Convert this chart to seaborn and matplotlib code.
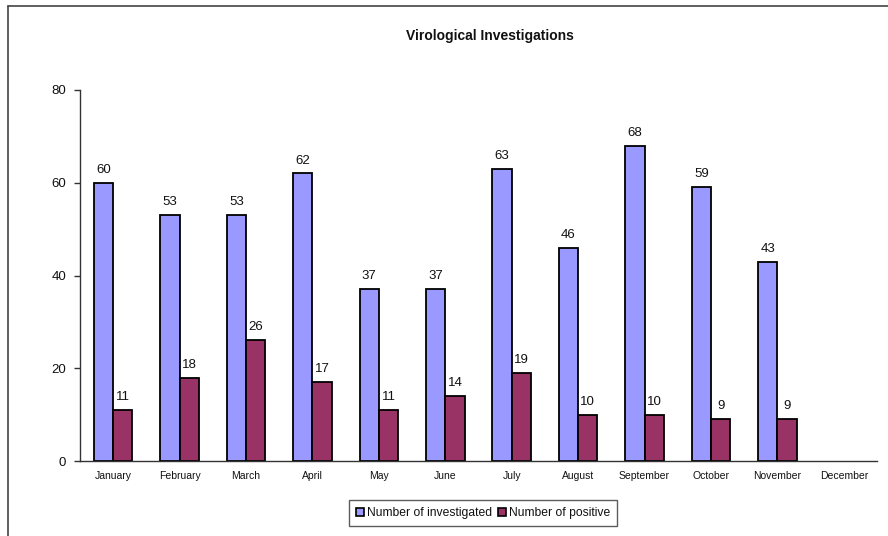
import numpy as np
import pandas as pd
import matplotlib
matplotlib.use("Agg")
import matplotlib.pyplot as plt
import seaborn as sns
from matplotlib.lines import Line2D
from matplotlib.patches import Patch

months = ["January", "February", "March", "April", "May", "June", "July",
          "August", "September", "October", "November", "December"]
investigated = [60, 53, 53, 62, 37, 37, 63, 46, 68, 59, 43, np.nan]
positive = [11, 18, 26, 17, 11, 14, 19, 10, 10, 9, 9, np.nan]
series_names = ["Number of investigated", "Number of positive"]
colors = ["#9999FF", "#993366"]
yticks = [0, 20, 40, 60, 80]

df = pd.DataFrame({
    "Month": months * 2,
    "Value": investigated + positive,
    "Series": [series_names[0]] * len(months) + [series_names[1]] * len(months),
})

sns.set_style("white")
plt.rcParams["font.family"] = ["Liberation Sans", "DejaVu Sans"]

fig = plt.figure(figsize=(8.88, 5.36), dpi=100)
ax = fig.add_axes([80 / 888, 1 - 461 / 536, (877 - 80) / 888, (461 - 90) / 536])

sns.barplot(data=df, x="Month", y="Value", hue="Series", palette=colors,
            order=months, hue_order=series_names, width=0.58, dodge=True,
            edgecolor="black", linewidth=1.3, saturation=1, ax=ax, legend=False)

for p in ax.patches:
    h = p.get_height()
    if h is None or np.isnan(h) or h == 0:
        continue
    ax.annotate(f"{int(round(h))}", (p.get_x() + p.get_width() / 2, h),
                xytext=(0, 5), textcoords="offset points", ha="center", va="bottom",
                fontsize=9.5, color="#111111")

ax.set_xlim(-0.5, len(months) - 0.5)
ax.set_ylim(0, 80)
ax.set_yticks(yticks)
ax.set_xlabel("")
ax.set_ylabel("")
for s in ["top", "right"]:
    ax.spines[s].set_visible(False)
for s in ["left", "bottom"]:
    ax.spines[s].set_color("#333333")
    ax.spines[s].set_linewidth(1.0)

ax.set_xticks(range(len(months)))
ax.set_xticklabels(months, fontsize=7.5, color="#111111")
ax.set_xticks(np.arange(-0.5, len(months), 1.0), minor=True)
ax.tick_params(axis="x", which="major", length=0, pad=7)
ax.tick_params(axis="x", which="minor", length=4, width=1, color="#333333", direction="out")
ax.tick_params(axis="y", length=4, width=1, color="#333333", direction="out", labelsize=9.5,
               pad=6, left=True, labelcolor="#111111")

fig.suptitle("Virological Investigations", x=490 / 888, y=1 - 29 / 536,
             fontsize=10, fontweight="bold", color="#111111")

handles = [Patch(facecolor=c, edgecolor="black", linewidth=1.2) for c in colors]
leg = fig.legend(handles, series_names, loc="center", bbox_to_anchor=(483 / 888, 1 - 513 / 536),
                 ncol=2, fontsize=8.7, frameon=True, fancybox=False, handlelength=0.7,
                 handleheight=0.7, handletextpad=0.2, columnspacing=0.5, borderpad=0.55)
leg.get_frame().set_edgecolor("#333333")
leg.get_frame().set_linewidth(1.0)
for t in leg.get_texts():
    t.set_color("#111111")

fig.add_artist(Line2D([8 / 888, 8 / 888], [0, 1 - 6 / 536], transform=fig.transFigure,
                      color="#444444", linewidth=1.2))
fig.add_artist(Line2D([8 / 888, 1], [1 - 6 / 536, 1 - 6 / 536], transform=fig.transFigure,
                      color="#444444", linewidth=1.2))

fig.savefig("out.png", dpi=100)
